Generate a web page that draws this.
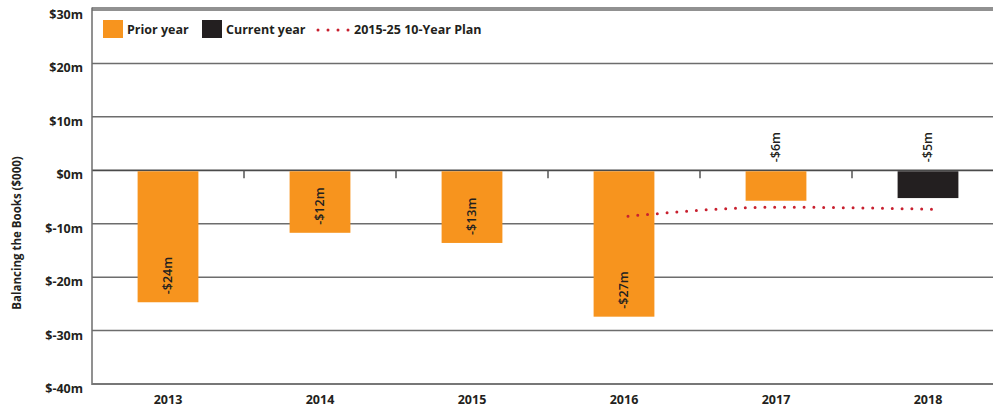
<!DOCTYPE html>
<html>
<head>
<meta charset="utf-8">
<script src="https://cdn.jsdelivr.net/npm/d3@7"></script>
<style>
  body { margin: 0; background: #fff; }
  text { font-family: "Open Sans", "DejaVu Sans", sans-serif; }
</style>
</head>
<body>
<div id="chart"></div>
<script>
const WIDTH = 993;
const HEIGHT = 407;

// --------------- Data ---------------
const years = ["2013", "2014", "2015", "2016", "2017", "2018"];
const balance = [-24.7, -11.7, -13.6, -27.4, -5.7, -5.2];
const barLabels = ["-$24m", "-$12m", "-$13m", "-$27m", "-$6m", "-$5m"];
const isCurrent = [false, false, false, false, false, true];
const planYears = ["2016", "2017", "2018"];
const planValues = [-8.6, -6.9, -7.3];
const yTicks = [30, 20, 10, 0, -10, -20, -30, -40];

const ORANGE = "#f7941e";
const BLACK = "#231f20";
const RED = "#c8202f";
const GRID = "#6d6d6d";

const margin = { top: 10, left: 92, right: -11, bottom: 23 };

// --------------- Scales ---------------
const x = d3
  .scaleBand()
  .domain(years)
  .range([margin.left, WIDTH - margin.right])
  .paddingInner(0.6)
  .paddingOuter(0.3);

const y = d3
  .scaleLinear()
  .domain([-40, 30])
  .range([HEIGHT - margin.bottom, margin.top]);

const svg = d3
  .select("#chart")
  .append("svg")
  .attr("width", WIDTH)
  .attr("height", HEIGHT);

// --------------- Grid and frame ---------------
svg
  .append("g")
  .selectAll("line")
  .data(yTicks.filter(d => d !== -40))
  .enter()
  .append("line")
  .attr("x1", margin.left)
  .attr("x2", WIDTH)
  .attr("y1", d => y(d))
  .attr("y2", d => y(d))
  .attr("stroke", d => (d === 0 ? "#4a4a4a" : GRID))
  .attr("stroke-width", d => (d === 0 ? 1.8 : 1.5));

// top border a bit above the $30m position
svg
  .append("line")
  .attr("x1", margin.left)
  .attr("x2", WIDTH)
  .attr("y1", y(30) - 2)
  .attr("y2", y(30) - 2)
  .attr("stroke", GRID)
  .attr("stroke-width", 1.5);

svg
  .append("line")
  .attr("x1", margin.left)
  .attr("x2", margin.left)
  .attr("y1", y(30) - 2.5)
  .attr("y2", y(-40) + 1)
  .attr("stroke", GRID)
  .attr("stroke-width", 1.5);

svg
  .append("line")
  .attr("x1", margin.left)
  .attr("x2", WIDTH)
  .attr("y1", y(-40))
  .attr("y2", y(-40))
  .attr("stroke", "#777")
  .attr("stroke-width", 2.2);

// small ticks between categories on the zero line
svg
  .append("g")
  .selectAll("line")
  .data(years.slice(1))
  .enter()
  .append("line")
  .attr("x1", d => x(d) - x.step() * x.paddingInner() / 2)
  .attr("x2", d => x(d) - x.step() * x.paddingInner() / 2)
  .attr("y1", y(0))
  .attr("y2", y(0) + 8)
  .attr("stroke", "#555")
  .attr("stroke-width", 1.5);

// --------------- Axis labels ---------------
svg
  .append("g")
  .selectAll("text")
  .data(yTicks)
  .enter()
  .append("text")
  .attr("x", 83)
  .attr("y", d => y(d) + 9)
  .attr("text-anchor", "end")
  .attr("font-size", 12.5)
  .attr("font-weight", 700)
  .attr("fill", "#231f20")
  .text(d => `$${d}m`);

svg
  .append("g")
  .selectAll("text")
  .data(years)
  .enter()
  .append("text")
  .attr("x", d => x(d) + x.bandwidth() / 2)
  .attr("y", 404)
  .attr("text-anchor", "middle")
  .attr("font-size", 12.5)
  .attr("font-weight", 700)
  .attr("fill", "#231f20")
  .text(d => d);

svg
  .append("text")
  .attr("transform", "translate(21,233) rotate(-90)")
  .attr("text-anchor", "middle")
  .attr("font-size", 11.5)
  .attr("font-weight", 700)
  .attr("fill", "#231f20")
  .text("Balancing the Books ($000)");

// --------------- Bars ---------------
svg
  .append("g")
  .selectAll("rect")
  .data(years)
  .enter()
  .append("rect")
  .attr("x", d => x(d))
  .attr("width", x.bandwidth())
  .attr("y", (d, i) => Math.min(y(0), y(balance[i])) + 1)
  .attr("height", (d, i) => Math.abs(y(balance[i]) - y(0)) - 1)
  .attr("fill", (d, i) => (isCurrent[i] ? BLACK : ORANGE));

// value labels: inside bar near its end, or above the zero line for small bars
svg
  .append("g")
  .selectAll("text")
  .data(years)
  .enter()
  .append("text")
  .attr("transform", (d, i) => {
    const cx = x(d) + x.bandwidth() / 2;
    const base = Math.abs(balance[i]) < 10 ? y(0) - 8 : y(balance[i]) - 8;
    return `translate(${cx},${base}) rotate(-90)`;
  })
  .attr("dy", "0.35em")
  .attr("text-anchor", "start")
  .attr("font-size", 12.5)
  .attr("font-weight", 600)
  .attr("fill", "#231f20")
  .text((d, i) => barLabels[i]);

// --------------- Plan line (dotted) ---------------
const line = d3
  .line()
  .x(d => x(d[0]) + x.bandwidth() / 2)
  .y(d => y(d[1]))
  .curve(d3.curveMonotoneX);

svg
  .append("path")
  .datum(planYears.map((d, i) => [d, planValues[i]]))
  .attr("d", line)
  .attr("transform", "translate(4,0)")
  .attr("fill", "none")
  .attr("stroke", RED)
  .attr("stroke-width", 3)
  .attr("stroke-linecap", "round")
  .attr("stroke-dasharray", "0 9.8");

// --------------- Legend ---------------
const legend = svg.append("g").attr("transform", "translate(103,20)");

legend
  .append("rect")
  .attr("width", 20)
  .attr("height", 18)
  .attr("fill", ORANGE);
legend
  .append("text")
  .attr("x", 24)
  .attr("y", 14)
  .attr("font-size", 12.5)
  .attr("font-weight", 700)
  .attr("fill", "#231f20")
  .text("Prior year");

legend
  .append("rect")
  .attr("x", 99)
  .attr("width", 20)
  .attr("height", 18)
  .attr("fill", BLACK);
legend
  .append("text")
  .attr("x", 123)
  .attr("y", 14)
  .attr("font-size", 12.5)
  .attr("font-weight", 700)
  .attr("fill", "#231f20")
  .text("Current year");

legend
  .append("line")
  .attr("x1", 215)
  .attr("x2", 246)
  .attr("y1", 10)
  .attr("y2", 10)
  .attr("stroke", RED)
  .attr("stroke-width", 3)
  .attr("stroke-linecap", "round")
  .attr("stroke-dasharray", "0 10");
legend
  .append("text")
  .attr("x", 251)
  .attr("y", 14)
  .attr("font-size", 12.5)
  .attr("font-weight", 700)
  .attr("fill", "#231f20")
  .text("2015-25 10-Year Plan");
</script>
</body>
</html>
